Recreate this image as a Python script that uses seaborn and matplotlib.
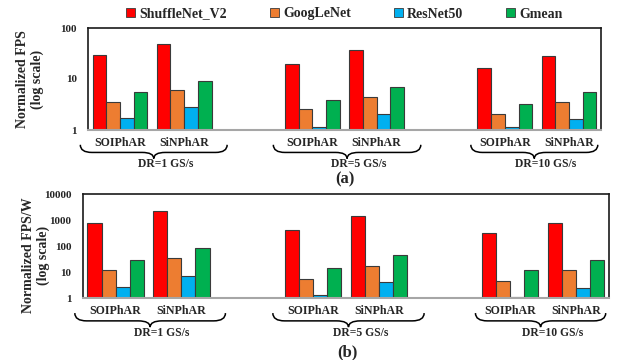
import numpy as np
import pandas as pd
import matplotlib
matplotlib.use("Agg")
import matplotlib.pyplot as plt
import matplotlib.transforms as mtransforms
from matplotlib.path import Path
from matplotlib.patches import PathPatch
import seaborn as sns

# ---- data -------------------------------------------------------------
series = ["ShuffleNet_V2", "GoogLeNet", "ResNet50", "Gmean"]
architectures = ["SOIPhAR", "SiNPhAR"]
data_rates = ["DR=1 GS/s", "DR=5 GS/s", "DR=10 GS/s"]

# order: DR1 SOI, DR1 SiN, DR5 SOI, DR5 SiN, DR10 SOI, DR10 SiN
fps_shufflenet = [29.1, 47.8, 19.7, 37.6, 16.4, 28.7]
fps_googlenet = [3.6, 6.1, 2.54, 4.37, 2.09, 3.54]
fps_resnet50 = [1.69, 2.78, 1.16, 2.09, 1.13, 1.67]
fps_gmean = [5.6, 9.3, 3.87, 7.07, 3.28, 5.56]

fpsw_shufflenet = [789, 2154, 400, 1384, 316, 789]
fpsw_googlenet = [11.6, 33.6, 5.5, 17.5, 4.38, 11.6]
fpsw_resnet50 = [2.57, 7.0, 1.27, 4.0, 1.09, 2.5]
fpsw_gmean = [28.1, 81.3, 13.8, 45.0, 11.6, 28.1]

fps_ticks = [1, 10, 100]
fpsw_ticks = [1, 10, 100, 1000, 10000]

colors = ["#FF0000", "#ED7D31", "#00B0F0", "#00B050"]

# ---- styling ----------------------------------------------------------
sns.set_theme(style="white")
plt.rcParams["font.family"] = ["Liberation Serif", "DejaVu Serif"]
plt.rcParams["font.weight"] = "bold"

# category slots: two architectures per data rate, with an empty slot between groups
slots, slot_labels = [], []
for i, dr in enumerate(data_rates):
    for arch in architectures:
        slots.append(f"{dr}|{arch}")
        slot_labels.append(arch)
    if i < len(data_rates) - 1:
        slots.append(" " * (i + 1))
        slot_labels.append("")


def make_frame(values_by_series):
    rows = []
    keys = [f"{dr}|{arch}" for dr in data_rates for arch in architectures]
    for name, vals in zip(series, values_by_series):
        for k, v in zip(keys, vals):
            rows.append({"slot": k, "model": name, "value": v})
    return pd.DataFrame(rows)


def brace(ax, x0, x1, y_top, y_mid, y_tip):
    trans = mtransforms.blended_transform_factory(ax.transData, ax.transAxes)
    xc = 0.5 * (x0 + x1)
    r = 0.18
    verts = [
        (x0, y_top), (x0, y_mid), (x0 + r, y_mid),
        (xc - r, y_mid),
        (xc, y_mid), (xc, y_tip),
        (xc, y_mid), (xc + r, y_mid),
        (x1 - r, y_mid),
        (x1, y_mid), (x1, y_top),
    ]
    codes = [Path.MOVETO, Path.CURVE3, Path.CURVE3,
             Path.LINETO,
             Path.CURVE3, Path.CURVE3,
             Path.CURVE3, Path.CURVE3,
             Path.LINETO,
             Path.CURVE3, Path.CURVE3]
    patch = PathPatch(Path(verts, codes), transform=trans, fill=False,
                      edgecolor="black", linewidth=1.1, clip_on=False)
    ax.add_patch(patch)
    return xc


def draw_panel(ax, df, ticks, ylabel, label_x, label_y):
    sns.barplot(data=df, x="slot", y="value", hue="model", order=slots,
                hue_order=series, palette=colors, saturation=1, width=0.855, gap=0,
                edgecolor="#3A3A3A", linewidth=0.8, ax=ax, legend=True)
    ax.set_yscale("log")
    ax.set_ylim(ticks[0], ticks[-1])
    ax.set_xlim(-0.5, len(slots) - 0.5)
    ax.yaxis.set_major_locator(matplotlib.ticker.FixedLocator(ticks))
    ax.yaxis.set_minor_locator(matplotlib.ticker.NullLocator())
    ax.set_yticklabels([str(t) for t in ticks], fontsize=8, fontweight="bold")
    ax.set_xticks(range(len(slots)))
    ax.set_xticklabels(slot_labels, fontsize=8.6, fontweight="bold")
    ax.tick_params(axis="both", length=0)
    ax.tick_params(axis="y", pad=8)
    ax.tick_params(axis="x", pad=5)
    ax.set_xlabel("")
    ax.set_ylabel(ylabel, fontsize=10, fontweight="bold", linespacing=1.15)
    ax.yaxis.set_label_coords(label_x, label_y)
    for side in ["top", "left", "right"]:
        ax.spines[side].set_color("#1A1A1A")
        ax.spines[side].set_linewidth(1.2)
    ax.spines["bottom"].set_color("#A6A6A6")
    ax.spines["bottom"].set_linewidth(1.5)
    ax.grid(False)

    spans = [(-0.62, 1.67), (2.39, 4.69), (5.47, 7.45)]
    for (x0, x1), dr in zip(spans, data_rates):
        xc = brace(ax, x0, x1, -0.145, -0.22, -0.28)
        ax.text(xc + 0.18, -0.335, dr, transform=mtransforms.blended_transform_factory(
            ax.transData, ax.transAxes), ha="center", va="center",
            fontsize=8.4, fontweight="bold")


fig = plt.figure(figsize=(6.18, 3.6), dpi=100)
W, H = 618.0, 360.0
ax_a = fig.add_axes([88 / W, 1 - 130 / H, 513 / W, 102 / H])
ax_b = fig.add_axes([82.7 / W, 1 - 298 / H, 526.3 / W, 104 / H])

df_fps = make_frame([fps_shufflenet, fps_googlenet, fps_resnet50, fps_gmean])
df_fpsw = make_frame([fpsw_shufflenet, fpsw_googlenet, fpsw_resnet50, fpsw_gmean])

draw_panel(ax_a, df_fps, fps_ticks, "Normalized FPS\n(log scale)", -0.086, 0.5)
draw_panel(ax_b, df_fpsw, fpsw_ticks, "Normalized FPS/W\n(log scale)", -0.062, 0.41)

handles, labels = ax_a.get_legend_handles_labels()
ax_a.get_legend().remove()
ax_b.get_legend().remove()
for h in handles:
    h.set_linewidth(0.6)
fig.legend(handles, labels, loc="center", bbox_to_anchor=(344.5 / W, 1 - 14 / H),
           ncol=4, frameon=False, handlelength=0.65, handleheight=0.65,
           handletextpad=0.3, columnspacing=3.1,
           prop={"weight": "bold", "size": 10})

fig.text(345 / W, 1 - 179 / H, "(a)", ha="center", va="center",
         fontsize=12, fontweight="bold")
fig.text(347 / W, 1 - 352 / H, "(b)", ha="center", va="center",
         fontsize=12, fontweight="bold")

fig.savefig("out.png", dpi=100)
